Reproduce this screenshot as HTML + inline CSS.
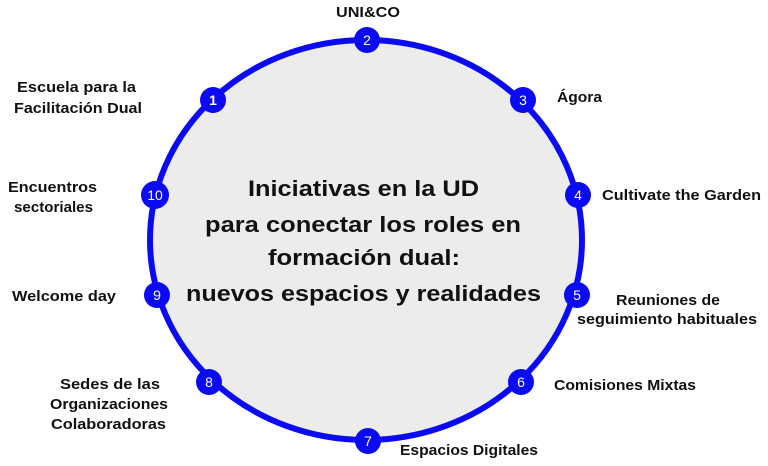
<!DOCTYPE html>
<html><head><meta charset="utf-8"><style>
body{margin:0;background:#fff;}
svg text{font-family:"Liberation Sans",sans-serif;font-weight:bold;fill:#111;}
svg .n{fill:#fff;font-weight:normal;}
</style></head><body>
<svg width="768" height="461" viewBox="0 0 768 461" xmlns="http://www.w3.org/2000/svg">
<ellipse cx="366" cy="240" rx="216" ry="200" fill="#ececec" stroke="#0a0af5" stroke-width="6"/>
<g fill="#0a0af5">
<circle cx="367" cy="40" r="13"/><circle cx="523" cy="100" r="13"/><circle cx="578" cy="195" r="13"/>
<circle cx="577" cy="295" r="13"/><circle cx="521" cy="382" r="13"/><circle cx="368" cy="441" r="13"/>
<circle cx="209" cy="382" r="13"/><circle cx="157" cy="295" r="13"/><circle cx="155" cy="195" r="14"/>
<circle cx="213" cy="100" r="13"/>
</g>
<g font-size="14" text-anchor="middle">
<text class="n" x="367" y="45">2</text>
<text class="n" x="523" y="105">3</text>
<text class="n" x="578" y="200">4</text>
<text class="n" x="577" y="300">5</text>
<text class="n" x="521" y="387">6</text>
<text class="n" x="368" y="446">7</text>
<text class="n" x="209" y="387">8</text>
<text class="n" x="157" y="300">9</text>
<text class="n" x="155" y="200">10</text>
<text class="n" x="213" y="105" style="font-weight:bold">1</text>
</g>
<g font-size="22">
<text x="248" y="196" textLength="231" lengthAdjust="spacingAndGlyphs">Iniciativas en la UD</text>
<text x="205" y="232" textLength="316" lengthAdjust="spacingAndGlyphs">para conectar los roles en</text>
<text x="268" y="265" textLength="192" lengthAdjust="spacingAndGlyphs">formación dual:</text>
<text x="186" y="301" textLength="355" lengthAdjust="spacingAndGlyphs">nuevos espacios y realidades</text>
</g>
<g font-size="14.5">
<text x="336" y="17" textLength="64" lengthAdjust="spacingAndGlyphs">UNI&amp;CO</text>
<text x="17" y="92" textLength="119" lengthAdjust="spacingAndGlyphs">Escuela para la</text>
<text x="14" y="113" textLength="128" lengthAdjust="spacingAndGlyphs">Facilitación Dual</text>
<text x="557" y="102" textLength="45" lengthAdjust="spacingAndGlyphs">Ágora</text>
<text x="602" y="200" textLength="159" lengthAdjust="spacingAndGlyphs">Cultivate the Garden</text>
<text x="616" y="305" textLength="104" lengthAdjust="spacingAndGlyphs">Reuniones de</text>
<text x="577" y="324" textLength="180" lengthAdjust="spacingAndGlyphs">seguimiento habituales</text>
<text x="554" y="390" textLength="142" lengthAdjust="spacingAndGlyphs">Comisiones Mixtas</text>
<text x="400" y="455" textLength="138" lengthAdjust="spacingAndGlyphs">Espacios Digitales</text>
<text x="60" y="389" textLength="100" lengthAdjust="spacingAndGlyphs">Sedes  de las</text>
<text x="50" y="409" textLength="118" lengthAdjust="spacingAndGlyphs">Organizaciones</text>
<text x="51" y="429" textLength="115" lengthAdjust="spacingAndGlyphs">Colaboradoras</text>
<text x="12" y="301" textLength="104" lengthAdjust="spacingAndGlyphs">Welcome day</text>
<text x="8" y="192" textLength="89" lengthAdjust="spacingAndGlyphs">Encuentros</text>
<text x="14" y="212" textLength="79" lengthAdjust="spacingAndGlyphs">sectoriales</text>
</g>
</svg>
</body></html>
